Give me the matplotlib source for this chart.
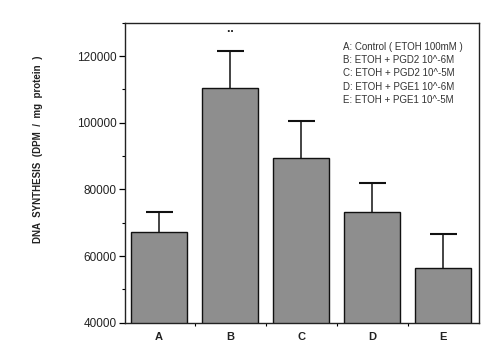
import numpy as np
import matplotlib
matplotlib.use("Agg")
import matplotlib.pyplot as plt
from matplotlib.ticker import MultipleLocator

groups = ["A", "B", "C", "D", "E"]
means = [67100, 110300, 89300, 73300, 56500]
upper_err = [6000, 11200, 11300, 8500, 10000]
legend_lines = [
    "A: Control ( ETOH 100mM )",
    "B: ETOH + PGD2 10^-6M",
    "C: ETOH + PGD2 10^-5M",
    "D: ETOH + PGE1 10^-6M",
    "E: ETOH + PGE1 10^-5M",
]
y_ticks = [40000, 60000, 80000, 100000, 120000]

plt.rcParams["font.family"] = ["Liberation Sans", "DejaVu Sans"]

fig = plt.figure(figsize=(5.01, 3.52), dpi=100)
ax = fig.add_axes([0.2495, 0.0832, 0.7065, 0.8523])

x = np.arange(len(groups))
tops = np.array(means) + np.array(upper_err)
ax.bar(x, means, width=0.79, color="#8e8e8e", edgecolor="#111111",
       linewidth=1.0, zorder=2)
# upper error bars only
ax.vlines(x, means, tops, color="#111111", linewidth=1.1, zorder=3)
ax.hlines(tops, x - 0.19, x + 0.19, color="#111111", linewidth=1.5, zorder=3)

# significance marks above B
ax.text(1, tops[1] + 5600, "\u00b7\u00b7", ha="center", va="center",
        fontsize=9, fontweight="bold", color="#222222")

ax.set_xlim(-0.48, 4.5)
ax.set_ylim(40000, 130000)
ax.set_yticks(y_ticks)
ax.set_yticklabels([str(v) for v in y_ticks], fontsize=8.5, color="#222222")
ax.yaxis.set_minor_locator(MultipleLocator(10000))
ax.set_xticks(x)
ax.set_xticklabels(groups, fontsize=8, fontweight="bold", color="#222222")
ax.tick_params(axis="x", which="major", length=0, pad=7)
ax.set_xticks(x[:-1] + 0.5, minor=True)
ax.tick_params(axis="x", which="minor", length=2, direction="out", width=0.8)
ax.tick_params(axis="y", which="major", length=4, direction="out", width=0.9, pad=2)
ax.tick_params(axis="y", which="minor", length=2, direction="out", width=0.8)

for s in ax.spines.values():
    s.set_linewidth(1.0)
    s.set_color("#222222")

fig.text(0.076, 0.575, "DNA  SYNTHESIS  (DPM  /  mg  protein  )", rotation=90,
         ha="center", va="center", fontsize=7, fontweight="bold", color="#222222")

for i, line in enumerate(legend_lines):
    ax.text(0.615, 0.92 - i * 0.0445, line, transform=ax.transAxes, ha="left",
            va="center", fontsize=7, color="#333333")

fig.savefig("out.png", dpi=100, facecolor="white")
